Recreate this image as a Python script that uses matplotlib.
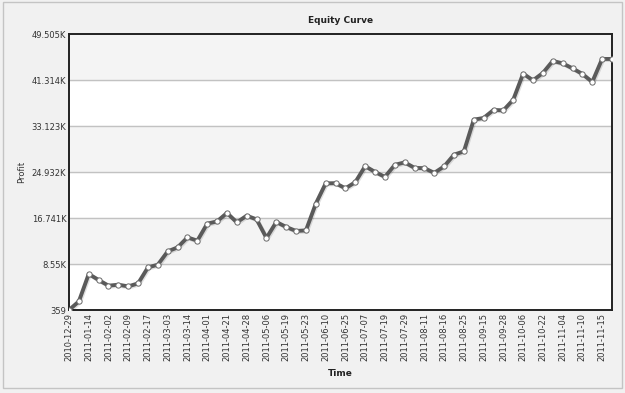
import numpy as np
import matplotlib
matplotlib.use("Agg")
import matplotlib.pyplot as plt
import matplotlib.patheffects as pe
from matplotlib.patches import Rectangle

# equity values, one per trade date
profit = [359, 1891, 6771, 5702, 4687, 4865, 4562, 5096, 7946, 8427,
          10796, 11508, 13289, 12701, 15729, 16139, 17635, 15961, 17154, 16495,
          13182, 16032, 15141, 14429, 14536, 19291, 22906, 22942, 22016, 23120,
          25970, 24937, 24064, 26201, 26647, 25667, 25614, 24776, 25934, 28018,
          28606, 34251, 34554, 35979, 35908, 37813, 42444, 41251, 42569, 44706,
          44278, 43388, 42391, 40966, 45062, 45062]

# only every second date is labelled on the axis
date_labels = ["2010-12-29", "2011-01-14", "2011-02-02", "2011-02-09", "2011-02-17",
               "2011-03-03", "2011-03-14", "2011-04-01", "2011-04-21", "2011-04-28",
               "2011-05-06", "2011-05-19", "2011-05-23", "2011-06-10", "2011-06-25",
               "2011-07-07", "2011-07-19", "2011-07-29", "2011-08-11", "2011-08-16",
               "2011-08-25", "2011-09-15", "2011-09-28", "2011-10-06", "2011-10-22",
               "2011-11-04", "2011-11-10", "2011-11-15"]

y_ticks = [359, 8550, 16741, 24932, 33123, 41314, 49505]
y_tick_labels = ["359", "8.55K", "16.741K", "24.932K", "33.123K", "41.314K", "49.505K"]

fig = plt.figure(figsize=(6.25, 3.93), dpi=100, facecolor="#f1f1f1")
fig.patches.append(Rectangle((3 / 625, 5 / 393), 619 / 625, 386 / 393, transform=fig.transFigure,
                             facecolor="none", edgecolor="#c4c4c4", linewidth=1.0))

ax = fig.add_axes([69 / 625, 1 - 310 / 393, 543 / 625, 276 / 393])
ax.set_facecolor("white")

x = np.arange(len(profit))
ax.set_xlim(0, len(profit) - 1)
ax.set_ylim(y_ticks[0], y_ticks[-1])

# alternating horizontal bands + grid lines
for i in range(len(y_ticks) - 1):
    if i % 2 == 1:
        ax.axhspan(y_ticks[i], y_ticks[i + 1], color="#f4f4f4", zorder=0)
for t in y_ticks[1:-1]:
    ax.axhline(t, color="#c2c2c2", linewidth=1.0, zorder=1)

ax.plot(x, profit, color="#5a5a5a", linewidth=2.8, zorder=3,
        solid_joinstyle="round",
        path_effects=[pe.SimpleLineShadow(offset=(0.8, -0.8), shadow_color="#000000", alpha=0.12),
                      pe.Normal()])
ax.plot(x, profit, linestyle="none", marker="o", markersize=3.8,
        markerfacecolor="white", markeredgecolor="#6a6a6a", markeredgewidth=0.7, zorder=4)

ax.set_yticks(y_ticks)
ax.set_yticklabels(y_tick_labels, fontsize=6, color="#333333")
ax.set_xticks(x[::2])
ax.set_xticklabels(date_labels, rotation=90, fontsize=6, color="#333333")
ax.tick_params(axis="both", length=0, pad=2)

for s in ax.spines.values():
    s.set_color("#222222")
    s.set_linewidth(1.4)

ax.set_title("Equity Curve", fontsize=6.5, fontweight="bold", color="#222222", pad=8)
ax.set_xlabel("Time", fontsize=6.5, fontweight="bold", color="#222222", labelpad=6)
fig.text(22 / 625, 1 - 172 / 393, "Profit", rotation=90, fontsize=6, color="#333333",
         ha="center", va="center")

fig.savefig("out.png", dpi=100, facecolor=fig.get_facecolor())
